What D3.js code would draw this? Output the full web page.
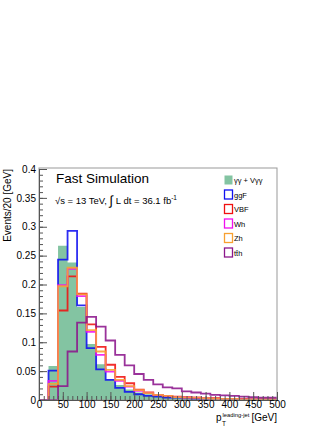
<!DOCTYPE html>
<html lang="en">
<head>
    <meta charset="UTF-8">
    <title>Leading jet pT</title>
    <script src="https://d3js.org/d3.v7.min.js"></script>
    <style>
        body { margin: 0; background: #fff; }
        svg { font-family: "Liberation Sans", Arial, sans-serif; }
        .tick text { font-size: 10px; fill: #000; }
        .axis path, .axis line { stroke: #555; }
        .hist { fill: none; stroke-width: 1.8px; stroke-opacity: 0.88; }
    </style>
</head>
<body>
    <svg width="332" height="430"></svg>

    <script>
        // bin edges (GeV), 20 GeV bins
        const binEdges = d3.range(0, 501, 20);

        // normalised shapes
        const bkgYY = [0, 0.059, 0.267, 0.238, 0.161, 0.097, 0.062, 0.036, 0.026, 0.018, 0.013, 0.010, 0.008, 0.006, 0.005, 0.004, 0.003, 0.003, 0.002, 0.002, 0.002, 0.001, 0.001, 0.001, 0.001];
        const ggF = [0, 0.051, 0.243, 0.293, 0.164, 0.090, 0.053, 0.035, 0.021, 0.014, 0.010, 0.007, 0.006, 0.004, 0.004, 0.003, 0.002, 0.002, 0.002, 0.001, 0.001, 0.001, 0.001, 0.001, 0.001];
        const VBF = [0, 0.023, 0.155, 0.214, 0.184, 0.131, 0.092, 0.061, 0.040, 0.029, 0.018, 0.013, 0.009, 0.007, 0.006, 0.005, 0.004, 0.003, 0.003, 0.002, 0.002, 0.002, 0.001, 0.001, 0.001];
        const Wh = [0, 0.033, 0.199, 0.227, 0.180, 0.118, 0.078, 0.049, 0.033, 0.023, 0.016, 0.012, 0.009, 0.007, 0.005, 0.004, 0.004, 0.003, 0.002, 0.002, 0.002, 0.001, 0.001, 0.001, 0.001];
        const Zh = [0, 0.028, 0.197, 0.229, 0.183, 0.121, 0.084, 0.052, 0.035, 0.024, 0.017, 0.012, 0.009, 0.007, 0.005, 0.004, 0.004, 0.003, 0.002, 0.002, 0.002, 0.001, 0.001, 0.001, 0.001];
        const ttH = [0, 0, 0.024, 0.084, 0.134, 0.144, 0.127, 0.103, 0.078, 0.060, 0.045, 0.035, 0.027, 0.022, 0.020, 0.015, 0.013, 0.011, 0.009, 0.008, 0.007, 0.006, 0.005, 0.004, 0.004];

        const legendLabels = ['γγ + Vγγ', 'ggF', 'VBF', 'Wh', 'Zh', 'tt̄h'];
        const yTicks = [0, 0.05, 0.1, 0.15, 0.2, 0.25, 0.3, 0.35, 0.4];
        const xTicks = [0, 50, 100, 150, 200, 250, 300, 350, 400, 450, 500];

        const lineSeries = [
            { values: ggF, color: '#1010f0' },
            { values: VBF, color: '#f01010' },
            { values: Wh, color: '#f010f0' },
            { values: Zh, color: '#f8a030' },
            { values: ttH, color: '#8c168c' }
        ];

        const svg = d3.select('svg');
        const pLeft = 39, pRight = 277, pTop = 169, pBottom = 400;

        const x = d3.scaleLinear().domain([0, 500]).range([pLeft, pRight]);
        const y = d3.scaleLinear().domain([0, 0.4]).range([pBottom, pTop]);

        // turn bin contents into step outline points
        function steps(vals) {
            const pts = [[0, 0]];
            vals.forEach((v, i) => {
                pts.push([binEdges[i], v]);
                pts.push([binEdges[i + 1], v]);
            });
            pts.push([500, 0]);
            return pts;
        }

        // background fill
        svg.append('path')
            .datum(steps(bkgYY))
            .attr('fill', '#83c4a2')
            .attr('d', d3.area().x(d => x(d[0])).y0(y(0)).y1(d => y(d[1])));

        const line = d3.line().x(d => x(d[0])).y(d => y(d[1]));
        svg.selectAll('.hist')
            .data(lineSeries)
            .enter().append('path')
            .attr('class', 'hist')
            .attr('stroke', d => d.color)
            .attr('d', d => line(steps(d.values)));

        // frame
        svg.append('rect')
            .attr('x', pLeft).attr('y', pTop - 1)
            .attr('width', pRight - pLeft).attr('height', pBottom - pTop + 1)
            .attr('fill', 'none').attr('stroke', '#999');

        // y axis, ticks pointing inwards
        svg.append('g').attr('class', 'axis')
            .attr('transform', `translate(${pLeft},0)`)
            .call(d3.axisLeft(y).tickValues(d3.range(0, 0.4001, 0.01)).tickSize(-4).tickFormat(''));
        svg.append('g').attr('class', 'axis')
            .attr('transform', `translate(${pLeft},0)`)
            .call(d3.axisLeft(y).tickValues(yTicks).tickSize(-8).tickPadding(3).tickFormat(d => d3.format('~g')(+d.toFixed(2))));

        // x axis
        svg.append('g').attr('class', 'axis')
            .attr('transform', `translate(0,${pBottom})`)
            .call(d3.axisBottom(x).tickValues(d3.range(0, 501, 10)).tickSize(-4).tickFormat(''));
        svg.append('g').attr('class', 'axis')
            .attr('transform', `translate(0,${pBottom})`)
            .call(d3.axisBottom(x).tickValues(xTicks).tickSize(-8).tickPadding(1));

        svg.selectAll('.axis .domain').attr('stroke', '#666');

        // axis titles
        svg.append('text')
            .attr('transform', `translate(11,${pTop}) rotate(-90)`)
            .attr('text-anchor', 'end')
            .attr('font-size', 10)
            .text('Events/20 [GeV]');

        svg.append('text').attr('x', 216).attr('y', 421).attr('font-size', 10).text('p');
        svg.append('text').attr('x', 222).attr('y', 426).attr('font-size', 6.5).text('T');
        svg.append('text').attr('x', 222.5).attr('y', 416.5).attr('font-size', 5.8).text('leading-jet');
        svg.append('text').attr('x', 277).attr('y', 421).attr('font-size', 10)
            .attr('text-anchor', 'end').text('[GeV]');

        // labels
        svg.append('text').attr('x', 56).attr('y', 183).attr('font-size', 13.5).text('Fast Simulation');
        const lum = svg.append('text').attr('x', 55).attr('y', 204).attr('font-size', 9.5);
        lum.append('tspan').text('√s = 13 TeV, ');
        lum.append('tspan').attr('font-size', 13).attr('dy', 1).text('∫');
        lum.append('tspan').attr('dy', -1).text(' L dt = 36.1 fb');
        lum.append('tspan').attr('font-size', 6.5).attr('dy', -4).text('-1');

        // legend
        const legColors = ['#83c4a2'].concat(lineSeries.map(s => s.color));
        const leg = svg.selectAll('.leg')
            .data(legendLabels)
            .enter().append('g')
            .attr('class', 'leg')
            .attr('transform', (d, i) => `translate(224,${180 + i * 14.5})`);
        leg.append('rect')
            .attr('x', 0.5).attr('y', -4.5).attr('width', 8).attr('height', 9)
            .attr('fill', (d, i) => i === 0 ? legColors[0] : 'none')
            .attr('stroke', (d, i) => i === 0 ? 'none' : legColors[i])
            .attr('stroke-width', 1.3);
        leg.append('text')
            .attr('x', 10).attr('y', 3)
            .attr('font-size', 7.5)
            .text(d => d);
    </script>
</body>
</html>
